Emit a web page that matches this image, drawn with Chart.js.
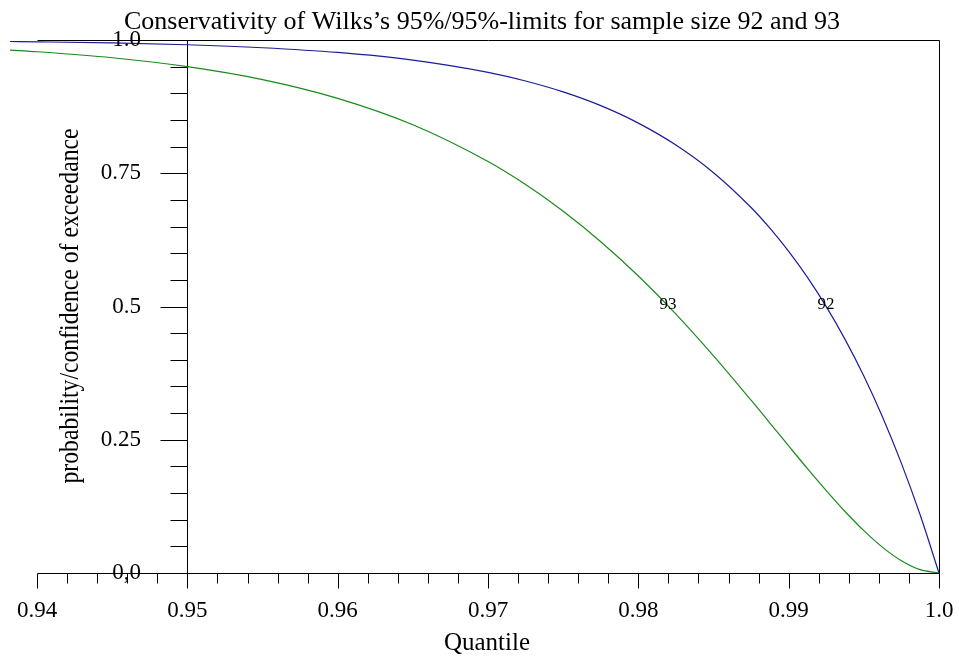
<!DOCTYPE html>
<html>
<head>
<meta charset="utf-8">
<script src="https://cdn.jsdelivr.net/npm/chart.js@4.4.1/dist/chart.umd.min.js"></script>
<style>
  html, body { margin: 0; padding: 0; background: #fff; }
  #wrap { width: 959px; height: 657px; }
</style>
</head>
<body>
<div id="wrap"><canvas id="wilks" width="959" height="657"></canvas></div>
<script>
// ─── DATA ───
const quantiles = [0.9382, 0.94, 0.945, 0.95, 0.955, 0.96, 0.965, 0.97, 0.9725, 0.975, 0.9775, 0.98,
  0.9825, 0.985, 0.9875, 0.98875, 0.99, 0.99125, 0.9925, 0.99375, 0.995, 0.99625, 0.9975, 0.99875, 1.0];
const p92 = [0.9972, 0.9966, 0.9945, 0.9911, 0.9855, 0.9766, 0.9623, 0.9393, 0.9231, 0.9026, 0.8768, 0.8441,
  0.8029, 0.7511, 0.6857, 0.6469, 0.6033, 0.5545, 0.4997, 0.4383, 0.3694, 0.2922, 0.2057, 0.1087, 0];
const p93 = [0.9811, 0.9780, 0.9667, 0.9500, 0.9257, 0.8905, 0.8409, 0.7719, 0.7287, 0.6787, 0.6216, 0.5573,
  0.4857, 0.4075, 0.3242, 0.2814, 0.2384, 0.1958, 0.1546, 0.1154, 0.0794, 0.0481, 0.0230, 0.0062, 0];

const xTickValues = [0.94, 0.95, 0.96, 0.97, 0.98, 0.99, 1.0];
const xTickLabels = ['0.94', '0.95', '0.96', '0.97', '0.98', '0.99', '1.0'];
const yTickValues = [0, 0.25, 0.5, 0.75, 1.0];
const yTickLabels = ['0,0', '0.25', '0.5', '0.75', '1.0'];
const curveNames = ['92', '93'];
const curveLabelX = [0.99248, 0.98197];
const curveLabelY = [0.5, 0.5];

const titleText = 'Conservativity of Wilks\u2019s 95%/95%-limits for sample size 92 and 93';
const xTitle = 'Quantile';
const yTitle = 'probability/confidence of exceedance';

const SERIF = '"Liberation Serif", "DejaVu Serif", serif';

// ─── AXES / LABELS PLUGIN ───
const axesPlugin = {
  id: 'wilksAxes',
  beforeDatasetsDraw(chart) {
    const { ctx, scales: { x, y } } = chart;
    const px = v => Math.round(x.getPixelForValue(v)) + 0.5;
    const py = v => Math.round(y.getPixelForValue(v)) + 0.5;
    const x0 = px(0.94), x1 = px(1.0), yAx = px(0.95);
    const yb = py(0), yt = py(1);
    ctx.save();
    ctx.strokeStyle = '#000';
    ctx.lineWidth = 1;
    ctx.beginPath();
    // frame: x axis, top edge, right edge
    ctx.moveTo(x0, yb); ctx.lineTo(x1, yb);
    ctx.moveTo(x0, yt); ctx.lineTo(x1, yt);
    ctx.moveTo(x1, yt); ctx.lineTo(x1, yb);
    // y axis at 0.95
    ctx.moveTo(yAx, yt); ctx.lineTo(yAx, yb);
    // x ticks: minor every 0.002, major every 0.01
    for (let i = 0; i <= 30; i++) {
      const v = 0.94 + i * 0.002;
      const len = i % 5 === 0 ? 15 : 10;
      ctx.moveTo(px(v), yb); ctx.lineTo(px(v), yb + len);
    }
    // y ticks: minor every 0.05, major every 0.25
    for (let i = 0; i <= 20; i++) {
      const v = i * 0.05;
      const len = i % 5 === 0 ? 27 : 17;
      ctx.moveTo(yAx, py(v)); ctx.lineTo(yAx - len, py(v));
    }
    ctx.stroke();
    ctx.restore();
  },
  afterDatasetsDraw(chart) {
    const { ctx, scales: { x, y } } = chart;
    ctx.save();
    ctx.fillStyle = '#000';

    // title
    ctx.font = '26px ' + SERIF;
    ctx.textAlign = 'center';
    ctx.textBaseline = 'alphabetic';
    ctx.fillText(titleText, 482, 29);

    // x tick labels
    ctx.font = '23px ' + SERIF;
    xTickValues.forEach((v, i) => ctx.fillText(xTickLabels[i], x.getPixelForValue(v), 617));

    // x title
    ctx.font = '25px ' + SERIF;
    ctx.fillText(xTitle, 487, 650);

    // y tick labels
    ctx.font = '23px ' + SERIF;
    ctx.textAlign = 'right';
    ctx.textBaseline = 'middle';
    yTickValues.forEach((v, i) => ctx.fillText(yTickLabels[i], 141, y.getPixelForValue(v)));

    // y title, rotated and condensed
    ctx.save();
    ctx.font = '28px ' + SERIF;
    ctx.textAlign = 'center';
    ctx.textBaseline = 'alphabetic';
    const w = ctx.measureText(yTitle).width;
    ctx.translate(78, 306);
    ctx.rotate(-Math.PI / 2);
    ctx.scale(355 / w, 1);
    ctx.fillText(yTitle, 0, 0);
    ctx.restore();

    // curve labels
    ctx.font = '17px ' + SERIF;
    ctx.textAlign = 'center';
    ctx.textBaseline = 'alphabetic';
    curveNames.forEach((n, i) => {
      ctx.fillText(n, x.getPixelForValue(curveLabelX[i]), y.getPixelForValue(curveLabelY[i]) + 2);
    });
    ctx.restore();
  }
};

// ─── CHART ───
new Chart(document.getElementById('wilks'), {
  type: 'scatter',
  data: {
    datasets: [
      {
        label: 'n = 92',
        data: quantiles.map((q, i) => ({ x: q, y: p92[i] })),
        showLine: true,
        borderColor: '#1c1c96',
        borderWidth: 1.2,
        pointRadius: 0,
        cubicInterpolationMode: 'monotone'
      },
      {
        label: 'n = 93',
        data: quantiles.map((q, i) => ({ x: q, y: p93[i] })),
        showLine: true,
        borderColor: '#1a8a1a',
        borderWidth: 1.2,
        pointRadius: 0,
        cubicInterpolationMode: 'monotone'
      }
    ]
  },
  options: {
    responsive: false,
    animation: false,
    devicePixelRatio: 1,
    layout: { padding: { left: 10, right: 20, top: 40, bottom: 84 } },
    plugins: {
      legend: { display: false },
      tooltip: { enabled: false },
      title: { display: false }
    },
    scales: {
      x: { type: 'linear', min: 0.9382, max: 1.0, display: false },
      y: { type: 'linear', min: 0, max: 1, display: false }
    }
  },
  plugins: [axesPlugin]
});
</script>
</body>
</html>
